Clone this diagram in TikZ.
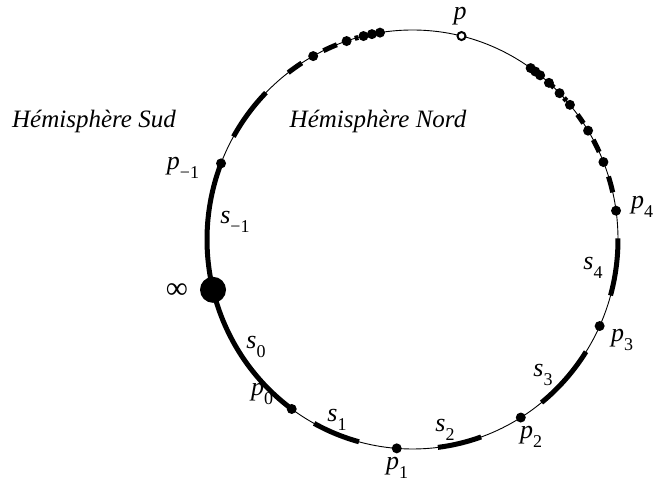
\documentclass[tikz,border=0pt]{standalone}
\usepackage{fontspec}
\setmainfont{Liberation Serif}
\newcommand\lsub[1]{\raisebox{-0.32em}{\fontsize{18}{18}\selectfont\upshape #1}}
\def\RX{205.5}
\def\RY{209.5}
\begin{document}
\begin{tikzpicture}[x=1pt,y=1pt,
  thn/.style={line width=0.9pt},
  thk/.style={line width=5pt},
  dot/.style={circle,fill=black,inner sep=0pt,minimum size=10pt},
  bigdot/.style={circle,fill=black,inner sep=0pt,minimum size=26pt},
  opendot/.style={circle,draw=black,fill=white,line width=2pt,inner sep=0pt,minimum size=8pt},
  lbl/.style={font=\fontsize{26}{30}\selectfont\itshape,inner sep=0pt},
  hemi/.style={font=\fontsize{25}{30}\selectfont\itshape,inner sep=0pt}]
\useasboundingbox (0,0) rectangle (656,484);
\begin{scope}[shift={(412.5,244.5)}]
  \draw[thn] (0,0) ellipse [x radius=\RX, y radius=\RY];
  \foreach \a/\b in {105.3/106.3, 111.6/115.7, 122.6/127.2, 135.5/150.6,
                     158.7/193.9, 193.9/234, 241.4/254.9, 277.1/289.5,
                     308.9/327.6, 344.5/360.3,
                     13.0/17.5, 24.7/28.4, 33.7/36.6, 41.5/42.5, 46.5/47.5}
    \draw[thk] (\a:\RX\space and \RY) arc[start angle=\a, end angle=\b, x radius=\RX, y radius=\RY];
  \foreach \a [count=\i] in {99.1,101.4,103.8,108.7,118.9}
    \node[dot] (L\i) at (\a:\RX\space and \RY) {};
  \foreach \a [count=\i] in {21.7,31.3,40.0,44.3,48.4,51.6,53.3,54.9}
    \node[dot] (R\i) at (\a:\RX\space and \RY) {};
  \node[opendot] (p) at (76.2:\RX\space and \RY) {};
  \node[dot] (pm1) at (158.7:\RX\space and \RY) {};
  \node[bigdot] (inf) at (193.9:\RX\space and \RY) {};
  \node[dot] (p0) at (234:\RX\space and \RY) {};
  \node[dot] (p1) at (265.6:\RX\space and \RY) {};
  \node[dot] (p2) at (301.8:\RX\space and \RY) {};
  \node[dot] (p3) at (335.6:\RX\space and \RY) {};
  \node[dot] (p4) at (7.9:\RX\space and \RY) {};
\end{scope}
\node[lbl] (lp)  at (460,468) {p};
\node[lbl] (lp4) at (642,277) {p\lsub{4}};
\node[lbl] (lp3) at (622,144) {p\lsub{3}};
\node[lbl] (lp2) at (531,47) {p\lsub{2}};
\node[lbl] (lp1) at (397,16) {p\lsub{1}};
\node[lbl] (lp0) at (262,90) {p\lsub{0}};
\node[lbl] (lpm1) at (183,316) {p\lsub{−1}};
\node[lbl] (lsm1) at (235,262) {s\lsub{−1}};
\node[lbl] (ls0) at (256,137) {s\lsub{0}};
\node[lbl] (ls1) at (337,64) {s\lsub{1}};
\node[lbl] (ls2) at (445,54) {s\lsub{2}};
\node[lbl] (ls3) at (543,109) {s\lsub{3}};
\node[lbl] (ls4) at (593,216) {s\lsub{4}};
\node[lbl,font=\fontsize{31}{31}\selectfont] (linf) at (177,193) {∞};
\node[hemi] (hs) at (94,363) {Hémisphère Sud};
\node[hemi] (hn) at (378,363) {Hémisphère Nord};
\end{tikzpicture}
\end{document}
